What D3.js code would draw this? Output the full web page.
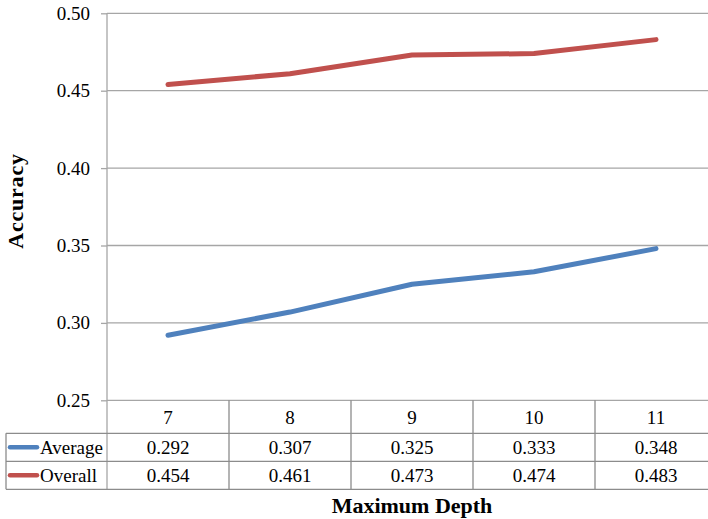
<!DOCTYPE html>
<html>
<head>
<meta charset="utf-8">
<script src="https://cdn.jsdelivr.net/npm/d3@7/dist/d3.min.js"></script>
<style>
  html, body { margin: 0; padding: 0; background: #fff; }
  svg { display: block; }
  svg text { font-family: "Liberation Serif", "Times New Roman", Times, serif !important; }
</style>
</head>
<body>
<svg id="chart" width="708" height="519"></svg>
<script>
// Accuracy versus maximum tree depth, with a data table below the plot
const categories = ["7", "8", "9", "10", "11"];
const seriesNames = ["Average", "Overall"];
const averageValues = [0.292, 0.307, 0.325, 0.333, 0.348];
const overallValues = [0.454, 0.461, 0.473, 0.474, 0.483];
const seriesColors = ["#4F81BD", "#C0504D"];
const yTicks = [0.25, 0.30, 0.35, 0.40, 0.45, 0.50];

const series = seriesNames.map((name, i) => ({
  name,
  values: i === 0 ? averageValues : overallValues,
  color: seriesColors[i]
}));

const serif = "'Liberation Serif', 'Times New Roman', Times, serif";
const svg = d3.select("#chart").attr("font-family", serif);
const plotLeft = 107, plotRight = 717, plotTop = 13.3, plotBottom = 400.3;
const rowH = [33, 28, 28];
const tableLeft = 6;
const gridColor = "#a6a6a6";
const tableColor = "#8c8c8c";
const fontSize = 19;
const titleSize = 22;

const x = d3.scaleBand().domain(categories).range([plotLeft, plotRight]);
const y = d3.scaleLinear().domain([0.25, 0.5]).range([plotBottom, plotTop]);

// Horizontal gridlines
svg.append("g")
  .selectAll("line")
  .data(yTicks)
  .join("line")
  .attr("x1", plotLeft).attr("x2", plotRight)
  .attr("y1", d => y(d)).attr("y2", d => y(d))
  .attr("stroke", gridColor).attr("stroke-width", 1.3);

// Y axis
const yAxis = svg.append("g")
  .attr("transform", `translate(${plotLeft},0)`)
  .call(d3.axisLeft(y).tickValues(yTicks).tickFormat(d3.format(".2f")).tickSize(6).tickPadding(11));
yAxis.attr("font-family", serif).attr("font-size", fontSize);
yAxis.select(".domain").remove();
yAxis.selectAll(".tick line").attr("stroke", gridColor).attr("stroke-width", 1.3);
yAxis.selectAll(".tick text").attr("fill", "#000");

// Data table geometry
const rowTops = [plotBottom, plotBottom + rowH[0], plotBottom + rowH[0] + rowH[1]];
const tableBottom = rowTops[2] + rowH[2];

// Vertical axis line through the table
svg.append("line")
  .attr("x1", plotLeft).attr("x2", plotLeft)
  .attr("y1", plotTop).attr("y2", tableBottom)
  .attr("stroke", gridColor).attr("stroke-width", 1.3);

const tbl = svg.append("g").attr("stroke", tableColor).attr("stroke-width", 1.3);
// column dividers
tbl.selectAll("line.col")
  .data(categories.slice(1))
  .join("line")
  .attr("class", "col")
  .attr("x1", d => x(d)).attr("x2", d => x(d))
  .attr("y1", plotBottom).attr("y2", tableBottom);
// row lines
tbl.selectAll("line.row")
  .data([rowTops[1], rowTops[2], tableBottom])
  .join("line")
  .attr("class", "row")
  .attr("x1", tableLeft).attr("x2", plotRight)
  .attr("y1", d => d).attr("y2", d => d);
// left border of the series label column
tbl.append("line")
  .attr("x1", tableLeft).attr("x2", tableLeft)
  .attr("y1", rowTops[1]).attr("y2", tableBottom);

// Category header row
svg.append("g")
  .selectAll("text")
  .data(categories)
  .join("text")
  .attr("x", d => x(d) + x.bandwidth() / 2)
  .attr("y", rowTops[0] + rowH[0] / 2 + 6.8)
  .attr("text-anchor", "middle")
  .attr("font-size", fontSize)
  .text(d => d);

// Series rows: legend swatch, name, values
series.forEach((s, i) => {
  const rt = rowTops[i + 1], rh = rowH[i + 1];
  const cy = rt + rh / 2;
  svg.append("line")
    .attr("x1", 10).attr("x2", 37)
    .attr("y1", cy).attr("y2", cy)
    .attr("stroke", s.color).attr("stroke-width", 4.5)
    .attr("stroke-linecap", "round");
  svg.append("text")
    .attr("x", 40).attr("y", cy + 7)
    .attr("font-size", fontSize)
    .text(s.name);
  svg.append("g")
    .selectAll("text")
    .data(s.values)
    .join("text")
    .attr("x", (d, j) => x(categories[j]) + x.bandwidth() / 2)
    .attr("y", cy + 7)
    .attr("text-anchor", "middle")
    .attr("font-size", fontSize)
    .text(d => d3.format(".3f")(d));
});

// Lines
const line = d3.line()
  .x((d, j) => x(categories[j]) + x.bandwidth() / 2)
  .y(d => y(d));
svg.append("g")
  .selectAll("path")
  .data(series)
  .join("path")
  .attr("d", d => line(d.values))
  .attr("fill", "none")
  .attr("stroke", d => d.color)
  .attr("stroke-width", 5)
  .attr("stroke-linecap", "round")
  .attr("stroke-linejoin", "round");

// Axis titles
svg.append("text")
  .attr("transform", `translate(23,201) rotate(-90)`)
  .attr("text-anchor", "middle")
  .attr("font-weight", "bold")
  .attr("font-size", titleSize)
  .attr("letter-spacing", 0.8)
  .text("Accuracy");
svg.append("text")
  .attr("x", (plotLeft + plotRight) / 2)
  .attr("y", 512.7)
  .attr("text-anchor", "middle")
  .attr("font-weight", "bold")
  .attr("font-size", titleSize)
  .text("Maximum Depth");
</script>
</body>
</html>
